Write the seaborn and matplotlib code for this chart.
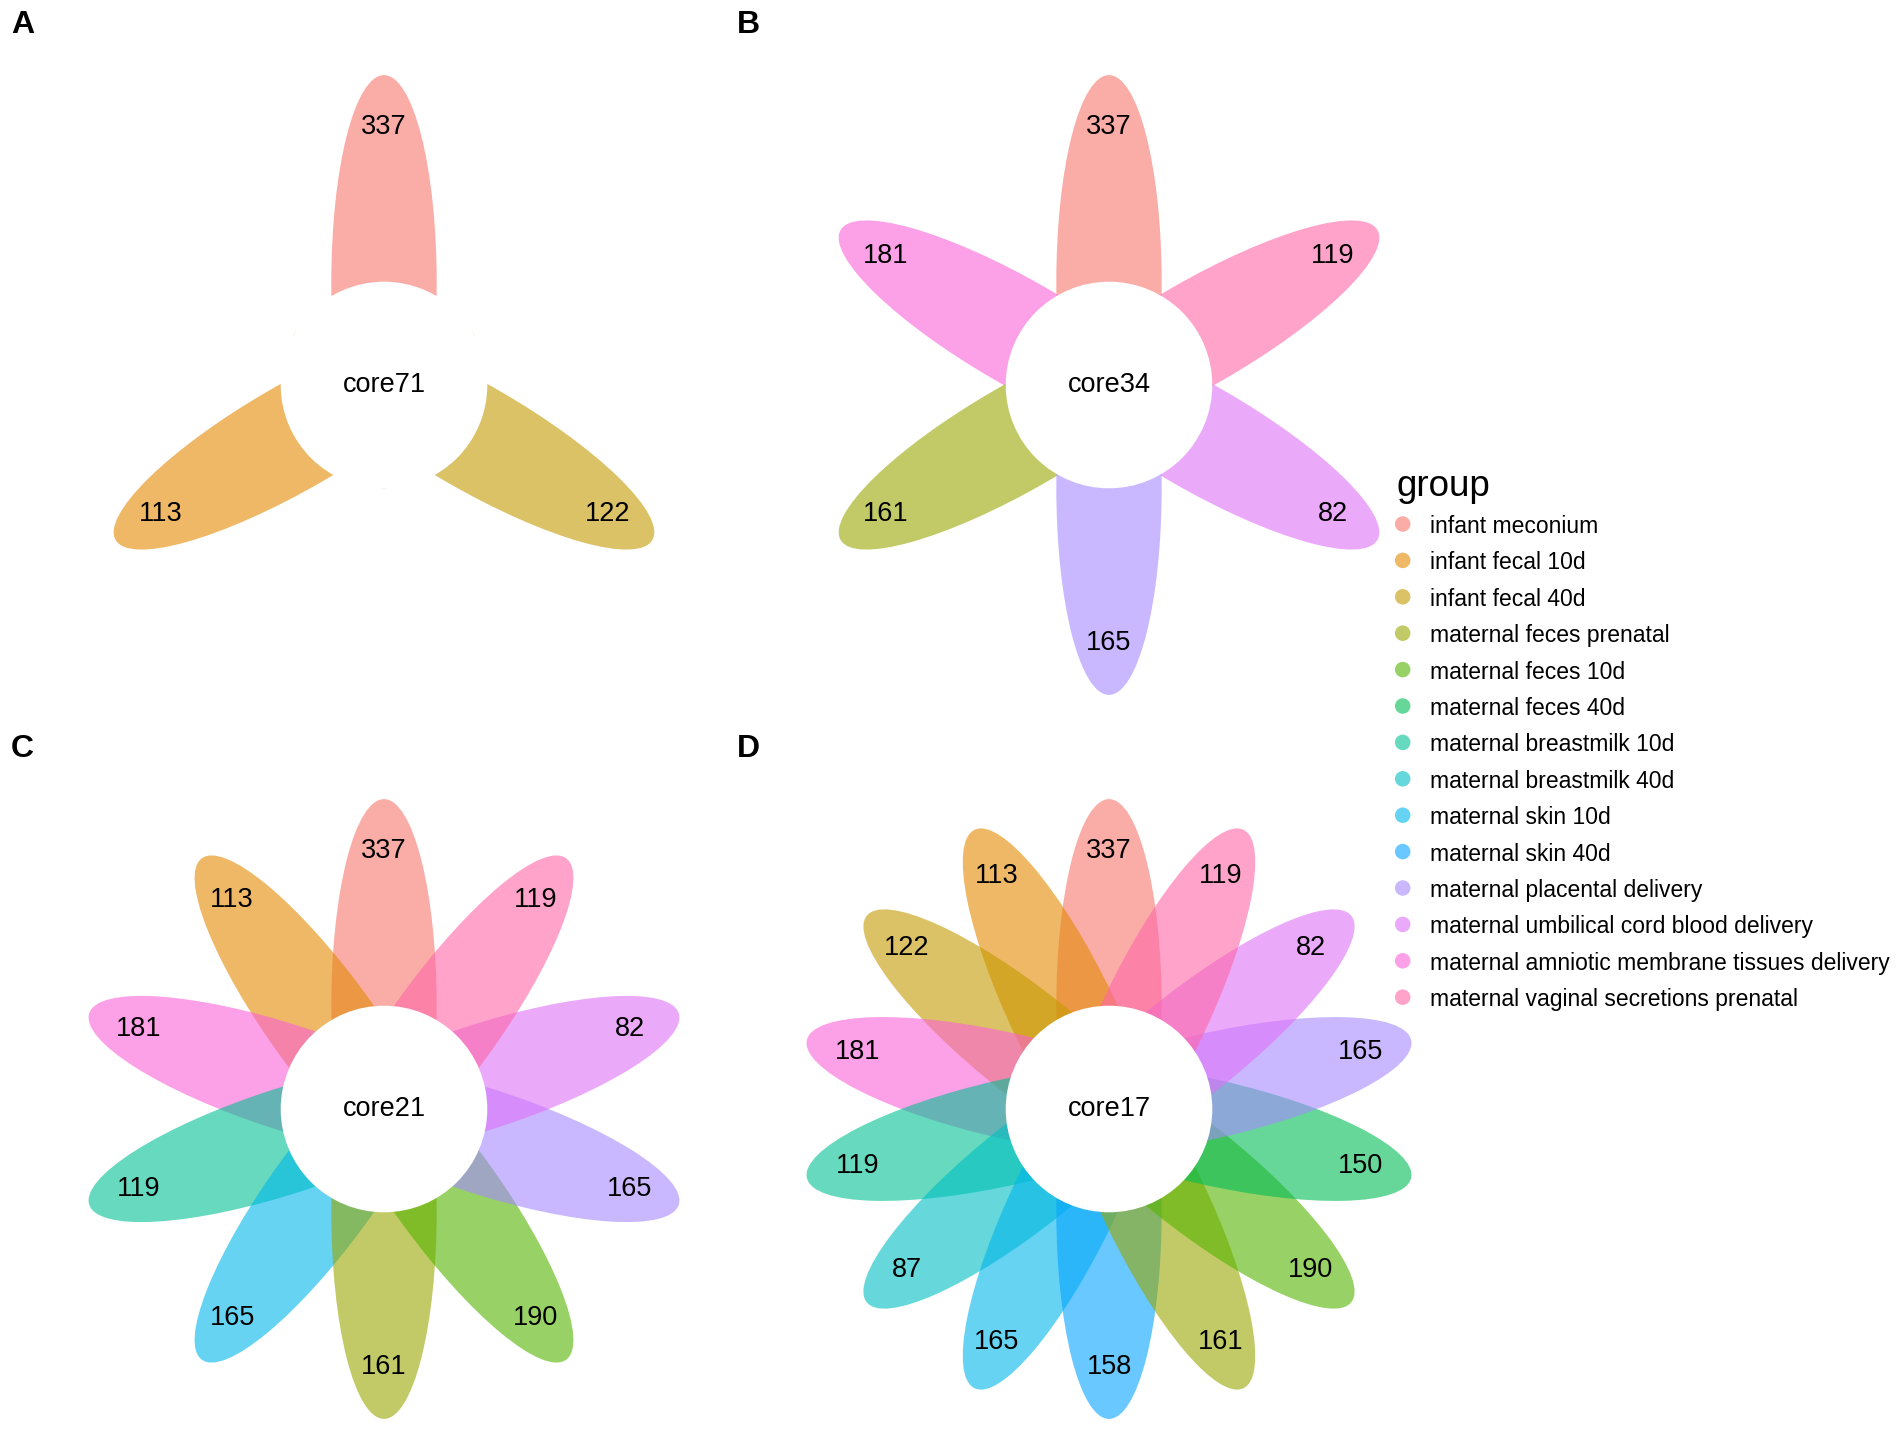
import numpy as np
import pandas as pd
import matplotlib
matplotlib.use("Agg")
import matplotlib.pyplot as plt
from matplotlib.patches import Ellipse, Circle
import seaborn as sns

sns.set_theme(style="white")
plt.rcParams["font.family"] = ["Liberation Sans", "DejaVu Sans"]
plt.rcParams["text.color"] = "black"

# ---------------------------------------------------------------------------
# data
# ---------------------------------------------------------------------------
groups = [
    "infant meconium", "infant fecal 10d", "infant fecal 40d",
    "maternal feces prenatal", "maternal feces 10d", "maternal feces 40d",
    "maternal breastmilk 10d", "maternal breastmilk 40d",
    "maternal skin 10d", "maternal skin 40d", "maternal placental delivery",
    "maternal umbilical cord blood delivery",
    "maternal amniotic membrane tissues delivery",
    "maternal vaginal secretions prenatal",
]

# petals go counter-clockwise from the top
a_groups = ["infant meconium", "infant fecal 10d", "infant fecal 40d"]
a_counts = [337, 113, 122]
a_core = 71

b_groups = ["infant meconium", "maternal amniotic membrane tissues delivery",
            "maternal feces prenatal", "maternal placental delivery",
            "maternal umbilical cord blood delivery",
            "maternal vaginal secretions prenatal"]
b_counts = [337, 181, 161, 165, 82, 119]
b_core = 34

c_groups = ["infant meconium", "infant fecal 10d",
            "maternal amniotic membrane tissues delivery",
            "maternal breastmilk 10d", "maternal skin 10d",
            "maternal feces prenatal", "maternal feces 10d",
            "maternal placental delivery",
            "maternal umbilical cord blood delivery",
            "maternal vaginal secretions prenatal"]
c_counts = [337, 113, 181, 119, 165, 161, 190, 165, 82, 119]
c_core = 21

d_groups = ["infant meconium", "infant fecal 10d", "infant fecal 40d",
            "maternal amniotic membrane tissues delivery",
            "maternal breastmilk 10d", "maternal breastmilk 40d",
            "maternal skin 10d", "maternal skin 40d",
            "maternal feces prenatal", "maternal feces 10d",
            "maternal feces 40d", "maternal placental delivery",
            "maternal umbilical cord blood delivery",
            "maternal vaginal secretions prenatal"]
d_counts = [337, 113, 122, 181, 119, 87, 165, 158, 161, 190, 150, 165, 82, 119]
d_core = 17


# ggplot2 default hue palette (hcl, c=100, l=65)
def hcl_color(h, c=100.0, l=65.0):
    hr = np.deg2rad(h)
    U, V = c * np.cos(hr), c * np.sin(hr)
    Xn, Yn, Zn = 95.047, 100.0, 108.883
    Y = Yn * ((l + 16) / 116) ** 3
    den = Xn + 15 * Yn + 3 * Zn
    u = U / (13 * l) + 4 * Xn / den
    v = V / (13 * l) + 9 * Yn / den
    X = 9 * Y * u / (4 * v)
    Z = -X / 3 - 5 * Y + 3 * Y / v
    M = np.array([[3.2404542, -1.5371385, -0.4985314],
                  [-0.9692660, 1.8760108, 0.0415560],
                  [0.0556434, -0.2040259, 1.0572252]])
    rgb = M @ (np.array([X, Y, Z]) / 100)
    rgb = np.clip(rgb, 0, None)
    rgb = np.where(rgb <= 0.0031308, 12.92 * rgb,
                   1.055 * rgb ** (1 / 2.4) - 0.055)
    return tuple(np.clip(rgb, 0, 1))


hues = np.linspace(15, 375, len(groups) + 1)[:-1] % 360
palette = {g: hcl_color(h) for g, h in zip(groups, hues)}
ALPHA = 0.6

# ---------------------------------------------------------------------------
# layout (pixels)
# ---------------------------------------------------------------------------
W, H = 1901, 1430
UNIT = 103.3          # px per petal unit
HALF = 3.2            # axes half-size in units

fig = plt.figure(figsize=(W / 100, H / 100), dpi=100)
fig.patch.set_facecolor("white")


def flower(cx, cy, pgroups, counts, core):
    ax = fig.add_axes([(cx - HALF * UNIT) / W, 1 - (cy + HALF * UNIT) / H,
                       2 * HALF * UNIT / W, 2 * HALF * UNIT / H])
    ax.set_xlim(-HALF, HALF); ax.set_ylim(-HALF, HALF)
    ax.set_aspect("equal"); ax.axis("off")
    n = len(pgroups)
    for i, (g, cnt) in enumerate(zip(pgroups, counts)):
        ang = 90 + 360 / n * i
        t = np.deg2rad(ang)
        ax.add_patch(Ellipse((np.cos(t), np.sin(t)), width=4.0, height=1.02,
                             angle=ang, facecolor=palette[g], alpha=ALPHA,
                             edgecolor="none", lw=0))
        ax.text(2.5 * np.cos(t), 2.5 * np.sin(t), str(cnt), fontsize=19.5,
                ha="center", va="center", color="black", zorder=5)
    ax.add_patch(Circle((0, 0), 1.0, facecolor="white", edgecolor="none",
                        zorder=4))
    ax.text(0, 0, f"core{core}", fontsize=19.5, ha="center", va="center",
            color="black", zorder=5)
    return ax


flower(384, 385, a_groups, a_counts, a_core)
flower(1109, 385, b_groups, b_counts, b_core)
flower(384, 1109, c_groups, c_counts, c_core)
flower(1109, 1109, d_groups, d_counts, d_core)

# panel letters
for lab, x, y in [("A", 11, 33), ("B", 737, 33), ("C", 11, 757), ("D", 737, 757)]:
    fig.text(x / W, 1 - y / H, lab, fontsize=23, fontweight="bold",
             color="black", ha="left", va="baseline")

# legend: rows indexed by group
ROW = 36.4
top_px = 524 - 2.5 * ROW
leg = fig.add_axes([1390 / W, 1 - (top_px + 17 * ROW) / H, 511 / W, 17 * ROW / H])
leg.set_xlim(0, 511); leg.set_ylim(14.5, -2.5); leg.axis("off")
leg_df = pd.DataFrame({"x": 12.7, "y": np.arange(len(groups)), "group": groups})
sns.scatterplot(data=leg_df, x="x", y="y", hue="group", palette=palette,
                s=125, alpha=ALPHA, linewidth=0, legend=False, ax=leg)
for i, g in enumerate(groups):
    leg.text(40, i, g, fontsize=16.5, color="black", ha="left",
             va="center_baseline")
leg.text(6, (496 - 524) / ROW, "group", fontsize=26.5, color="black",
         ha="left", va="baseline")

fig.savefig("out.png", dpi=100, facecolor="white")
